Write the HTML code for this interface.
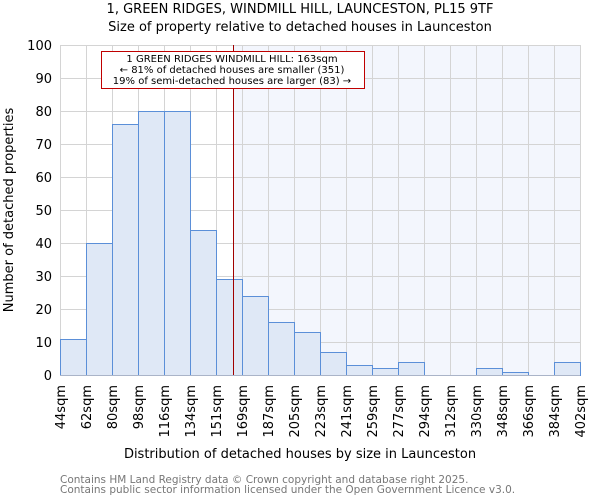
<!DOCTYPE html>
<html><head><meta charset="utf-8"><style>
body{margin:0;background:#fff;font-family:"DejaVu Sans","Liberation Sans",sans-serif}
</style></head><body>
<svg id="c" width="600" height="500" xmlns="http://www.w3.org/2000/svg" font-family="DejaVu Sans, Liberation Sans, sans-serif">
<text x="300" y="13" text-anchor="middle" font-size="13">1, GREEN RIDGES, WINDMILL HILL, LAUNCESTON, PL15 9TF</text>
<text x="300" y="31" text-anchor="middle" font-size="13">Size of property relative to detached houses in Launceston</text>
<g id="plot"></g>
<text x="300" y="458" text-anchor="middle" font-size="13">Distribution of detached houses by size in Launceston</text>
<text transform="translate(13,210) rotate(-90)" text-anchor="middle" font-size="13">Number of detached properties</text>
<text x="60" y="483" font-size="10.5" fill="#777">Contains HM Land Registry data © Crown copyright and database right 2025.</text>
<text x="60" y="493" font-size="10.5" fill="#777">Contains public sector information licensed under the Open Government Licence v3.0.</text>
</svg>
<script>
const binLabels=["44sqm","62sqm","80sqm","98sqm","116sqm","134sqm","151sqm","169sqm","187sqm","205sqm","223sqm","241sqm","259sqm","277sqm","294sqm","312sqm","330sqm","348sqm","366sqm","384sqm","402sqm"];
const counts=[11,40,76,80,80,44,29,24,16,13,7,3,2,4,0,0,2,1,0,4];
const yTicks=[0,10,20,30,40,50,60,70,80,90,100];
const marker=163, binStart=44, binWidth=17.9;
const L=60,R=580,T=45,B=375,NS="http://www.w3.org/2000/svg";
const g=document.getElementById('plot');
const n=counts.length,bw=(R-L)/n;
const xs=i=>L+i*bw, ys=v=>B-(v/100)*(B-T);
const xv=v=>L+(v-binStart)/binWidth*bw;
function mk(t,a){const e=document.createElementNS(NS,t);for(const k in a)e.setAttribute(k,a[k]);g.appendChild(e);return e;}
const mx=Math.round(xv(marker))+0.5;
let sh=mk('rect',{x:mx,y:T,width:R-mx,height:B-T,fill:'#f3f6fd'});


for(const t of yTicks){let y=Math.round(ys(t))+0.5;let l=mk('line',{x1:L,x2:R,y1:y,y2:y,stroke:'#d4d4d4'});


let tx=mk('text',{x:L-8,y:ys(t)+5,'text-anchor':'end','font-size':13});tx.textContent=t;

}
for(let i=0;i<=n;i++){let x=Math.round(xs(i))+0.5;let l=mk('line',{x1:x,x2:x,y1:T,y2:B,stroke:'#d4d4d4'});

}
counts.forEach((c,i)=>{if(c<=0)return;let r=mk('rect',{x:Math.round(xs(i))+0.5,y:Math.round(ys(c))+0.5,width:bw,height:B-Math.round(ys(c)),fill:'#dfe8f6',stroke:'#5b8fd8','stroke-width':1});

});
let ax=mk('line',{x1:L,x2:R,y1:B+0.5,y2:B+0.5,stroke:'#aab4c8'});


binLabels.forEach((s,i)=>{let t=mk('text',{transform:`translate(${xs(i)+5},${B+10}) rotate(-90)`,'text-anchor':'end','font-size':13});t.textContent=s;

});
let ml=mk('line',{x1:mx,x2:mx,y1:T,y2:B,stroke:'#a00000','stroke-width':1});


let bx=mk('rect',{x:101.5,y:51.5,width:263,height:37,fill:'#fff',stroke:'#c00000'});


["1 GREEN RIDGES WINDMILL HILL: 163sqm","← 81% of detached houses are smaller (351)","19% of semi-detached houses are larger (83) →"].forEach((s,i)=>{
let t=mk('text',{x:232,y:62+i*11,'text-anchor':'middle','font-size':10});t.textContent=s;

});
</script>
</body></html>
